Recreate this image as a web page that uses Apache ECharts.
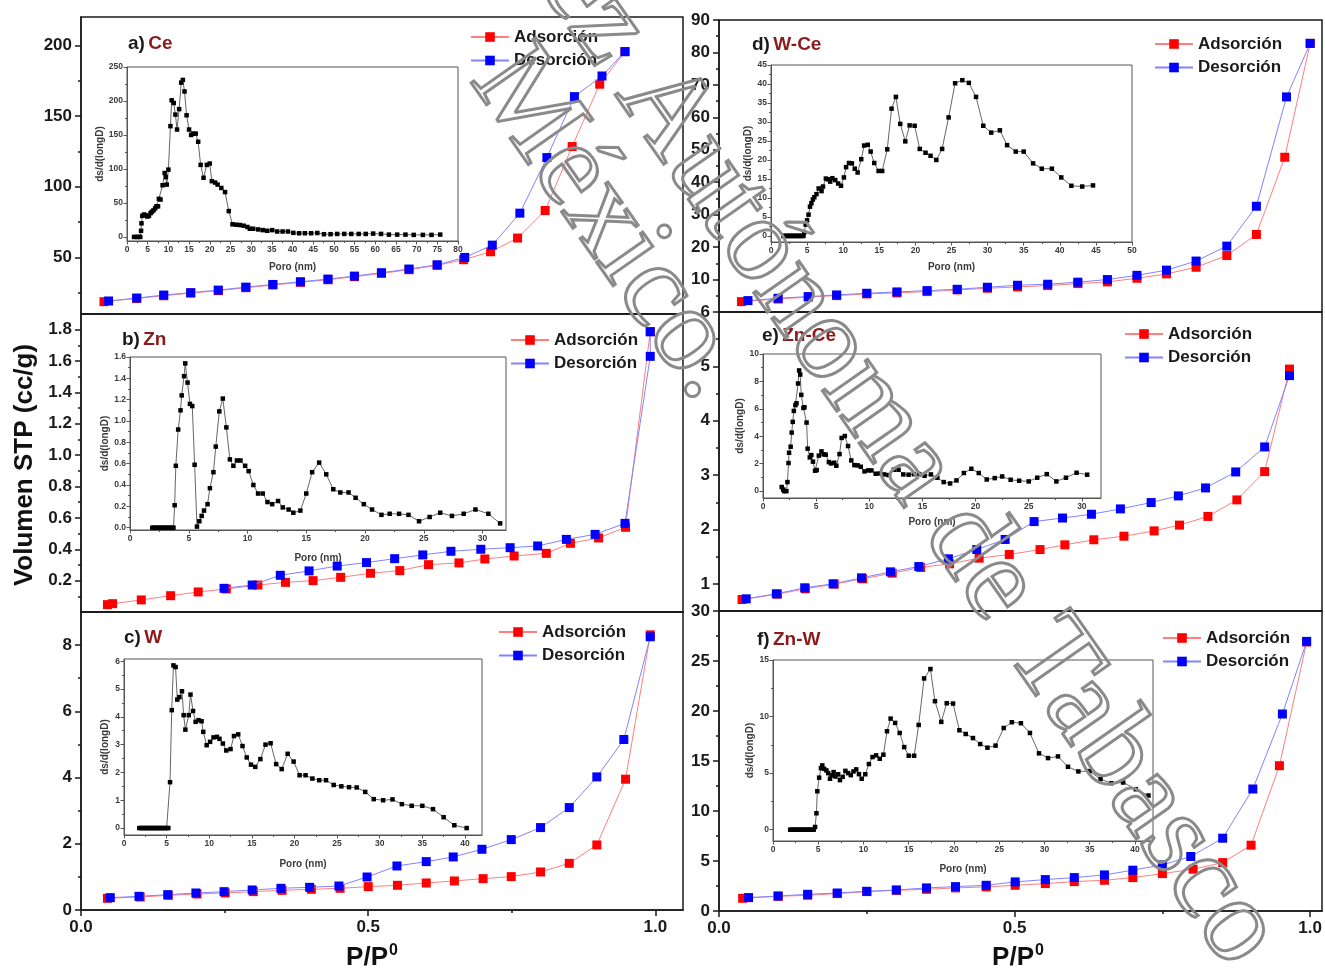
<!DOCTYPE html>
<html>
<head>
<meta charset="utf-8">
<script src="https://cdn.jsdelivr.net/npm/echarts@6/dist/echarts.min.js"></script>
<style>
  html, body { margin: 0; padding: 0; background: #ffffff; }
  #chart { width: 1325px; height: 971px; }
</style>
</head>
<body>
<div id="chart"></div>
<script>
// ---------- N2 isotherms: [P/P0, volume STP (cc/g)] ----------
const ceAdsorcion = [[0.040,18.7],[0.097,21.0],[0.144,22.9],[0.191,24.8],[0.239,26.5],[0.287,28.6],[0.334,30.5],[0.382,32.4],[0.430,34.2],[0.476,36.4],[0.523,38.7],[0.571,41.3],[0.620,44.4],[0.666,48.4],[0.713,54.0],[0.760,63.7],[0.808,83.2],[0.855,128.4],[0.903,172.5],[0.947,195.5]];
const ceDesorcion = [[0.048,19.2],[0.097,21.3],[0.144,23.4],[0.191,25.1],[0.239,26.9],[0.287,29.0],[0.334,30.9],[0.382,32.8],[0.430,34.7],[0.476,36.8],[0.523,39.2],[0.571,41.8],[0.620,44.8],[0.668,50.0],[0.716,58.7],[0.764,81.3],[0.811,120.6],[0.859,163.7],[0.907,178.3],[0.947,195.5]];

const znAdsorcion = [[0.046,0.047],[0.055,0.053],[0.105,0.077],[0.156,0.104],[0.204,0.128],[0.253,0.147],[0.308,0.172],[0.356,0.189],[0.404,0.200],[0.452,0.221],[0.504,0.247],[0.555,0.264],[0.605,0.302],[0.658,0.313],[0.703,0.338],[0.754,0.357],[0.810,0.374],[0.852,0.438],[0.901,0.472],[0.948,0.540],[0.991,1.787]];
const znDesorcion = [[0.249,0.151],[0.298,0.172],[0.347,0.234],[0.397,0.262],[0.446,0.293],[0.497,0.315],[0.546,0.340],[0.595,0.364],[0.644,0.387],[0.696,0.400],[0.747,0.410],[0.795,0.421],[0.845,0.463],[0.895,0.495],[0.947,0.565],[0.991,1.630],[0.991,1.787]];

const wAdsorcion = [[0.046,0.353],[0.103,0.393],[0.152,0.443],[0.202,0.484],[0.251,0.514],[0.300,0.554],[0.350,0.594],[0.401,0.625],[0.451,0.655],[0.500,0.705],[0.551,0.746],[0.601,0.816],[0.650,0.877],[0.700,0.947],[0.749,1.008],[0.800,1.149],[0.850,1.41],[0.898,1.965],[0.948,3.95],[0.991,8.31]];
const wDesorcion = [[0.051,0.373],[0.101,0.413],[0.151,0.463],[0.200,0.514],[0.249,0.554],[0.298,0.605],[0.348,0.655],[0.398,0.685],[0.449,0.725],[0.498,0.997],[0.550,1.33],[0.601,1.461],[0.648,1.602],[0.698,1.834],[0.749,2.126],[0.800,2.489],[0.850,3.093],[0.898,4.02],[0.945,5.149],[0.991,8.252]];

const wceAdsorcion = [[0.038,3.2],[0.100,4.0],[0.151,4.6],[0.199,5.05],[0.250,5.57],[0.301,5.88],[0.352,6.29],[0.403,6.8],[0.454,7.32],[0.505,7.73],[0.556,8.14],[0.607,8.76],[0.657,9.28],[0.707,10.4],[0.757,11.75],[0.807,13.8],[0.859,17.4],[0.909,23.9],[0.957,47.7],[1.0,82.8]];
const wceDesorcion = [[0.049,3.51],[0.100,4.23],[0.151,4.75],[0.199,5.26],[0.250,5.78],[0.301,6.19],[0.352,6.6],[0.403,7.0],[0.454,7.63],[0.505,8.25],[0.556,8.56],[0.607,9.2],[0.657,10.0],[0.707,11.3],[0.757,12.9],[0.807,15.7],[0.859,20.3],[0.909,32.6],[0.960,66.3],[1.0,82.8]];

const znceAdsorcion = [[0.039,0.712],[0.099,0.81],[0.146,0.908],[0.195,0.994],[0.243,1.092],[0.293,1.196],[0.341,1.30],[0.390,1.368],[0.440,1.472],[0.491,1.54],[0.543,1.63],[0.585,1.717],[0.634,1.81],[0.685,1.876],[0.736,1.974],[0.779,2.08],[0.827,2.24],[0.876,2.544],[0.923,3.064],[0.965,4.95]];
const znceDesorcion = [[0.046,0.724],[0.097,0.816],[0.145,0.927],[0.193,1.0],[0.241,1.11],[0.290,1.22],[0.338,1.318],[0.388,1.46],[0.436,1.63],[0.484,1.816],[0.533,2.145],[0.581,2.21],[0.630,2.28],[0.679,2.378],[0.731,2.495],[0.777,2.617],[0.823,2.764],[0.874,3.058],[0.923,3.518],[0.965,4.83]];

const znwAdsorcion = [[0.040,1.27],[0.100,1.47],[0.150,1.57],[0.200,1.74],[0.250,1.94],[0.300,2.07],[0.351,2.17],[0.400,2.31],[0.452,2.41],[0.501,2.57],[0.552,2.74],[0.601,2.94],[0.652,3.07],[0.700,3.34],[0.750,3.74],[0.802,4.18],[0.852,4.84],[0.900,6.58],[0.948,14.53],[0.994,26.9]];
const znwDesorcion = [[0.050,1.34],[0.100,1.5],[0.150,1.67],[0.200,1.8],[0.250,1.97],[0.300,2.1],[0.351,2.31],[0.400,2.44],[0.452,2.57],[0.501,2.91],[0.552,3.14],[0.601,3.34],[0.652,3.61],[0.700,4.08],[0.750,4.61],[0.798,5.45],[0.852,7.28],[0.903,12.2],[0.953,19.7],[0.994,26.96]];

// ---------- pore size distributions: [pore (nm), ds/d(logD)] ----------
const cePoro = [[1.7,0],[2.3,0],[2.7,0],[3.2,0],[3.4,9],[3.5,20],[3.7,31],[4.1,33],[4.5,32],[4.9,30],[5.3,31],[5.7,35],[6.0,37],[6.4,39],[6.8,42],[7.1,45],[7.5,45],[7.7,56],[8.1,55],[8.6,76],[9.1,94],[9.4,88],[9.6,77],[10.0,99],[10.5,163],[10.8,201],[11.3,197],[11.7,180],[12.1,158],[12.6,188],[13.1,227],[13.5,231],[13.9,214],[14.4,179],[15.0,158],[15.5,150],[16.0,152],[16.6,152],[17.2,140],[17.8,106],[18.5,87],[19.3,106],[20.0,108],[20.5,82],[21.3,80],[21.9,77],[22.8,72],[23.7,66],[24.6,38],[25.5,18.5],[26.4,18],[27.3,17.5],[28.2,16.5],[29.1,14.6],[29.7,12],[30.5,12],[31.7,11],[32.8,10],[33.9,9],[35.1,10],[36.3,8],[37.6,8],[38.9,8],[40.2,6],[41.6,5.4],[43.0,5.4],[44.5,5.4],[46.0,5.8],[47.6,4],[49.2,4],[50.8,4.4],[52.5,4.4],[54.2,4.4],[56.0,4.4],[57.7,4.4],[59.5,4.9],[61.4,4.4],[63.3,3.4],[65.3,3.4],[67.3,3.4],[69.3,3],[71.5,3],[73.6,3],[75.7,3.4]];
const znPoro = [[1.9,0],[2.1,0],[2.3,0],[2.5,0],[2.7,0],[2.9,0],[3.1,0],[3.3,0],[3.5,0],[3.7,0],[3.8,0.21],[3.9,0.58],[4.1,0.92],[4.3,1.10],[4.4,1.24],[4.6,1.42],[4.7,1.54],[4.9,1.36],[5.1,1.16],[5.3,1.14],[5.5,0.59],[5.7,0.01],[5.9,0.06],[6.1,0.11],[6.3,0.16],[6.6,0.22],[6.8,0.37],[7.1,0.52],[7.3,0.76],[7.6,1.09],[7.9,1.21],[8.2,0.94],[8.5,0.64],[8.8,0.58],[9.1,0.63],[9.4,0.63],[9.8,0.58],[10.1,0.53],[10.5,0.40],[10.9,0.32],[11.3,0.32],[11.7,0.24],[12.1,0.22],[12.6,0.25],[13.0,0.19],[13.5,0.17],[13.9,0.14],[14.5,0.16],[15.0,0.32],[15.5,0.52],[16.1,0.61],[16.7,0.50],[17.3,0.36],[17.9,0.33],[18.6,0.33],[19.2,0.28],[19.9,0.22],[20.6,0.17],[21.4,0.12],[22.1,0.13],[22.9,0.13],[23.7,0.12],[24.6,0.06],[25.5,0.10],[26.4,0.14],[27.4,0.11],[28.4,0.13],[29.4,0.17],[30.5,0.13],[31.5,0.04]];
const wPoro = [[1.8,0],[2.0,0],[2.2,0],[2.4,0],[2.6,0],[2.8,0],[3.0,0],[3.2,0],[3.4,0],[3.6,0],[3.8,0],[4.0,0],[4.2,0],[4.4,0],[4.6,0],[4.8,0],[5.0,0],[5.2,0],[5.4,1.65],[5.6,4.24],[5.8,5.85],[6.05,5.79],[6.25,4.62],[6.5,4.71],[6.8,4.92],[7.0,4.06],[7.2,3.54],[7.6,4.06],[7.8,4.80],[8.1,4.21],[8.4,3.82],[8.75,3.88],[9.1,3.84],[9.3,3.46],[9.7,2.98],[10.1,3.10],[10.5,3.26],[10.9,3.28],[11.2,3.21],[11.6,3.04],[12.0,2.79],[12.5,2.84],[12.9,3.31],[13.4,3.37],[13.9,2.95],[14.4,2.54],[14.9,2.28],[15.4,2.20],[16.0,2.48],[16.6,3.00],[17.2,3.05],[17.85,2.30],[18.5,2.12],[19.2,2.67],[19.9,2.39],[20.6,1.90],[21.3,1.90],[22.1,1.78],[22.9,1.72],[23.7,1.72],[24.6,1.55],[25.5,1.50],[26.4,1.47],[27.3,1.46],[28.3,1.30],[29.3,1.04],[30.4,1.00],[31.5,1.03],[32.6,0.86],[33.75,0.80],[35.0,0.80],[36.25,0.68],[37.5,0.39],[38.75,0.10],[40.2,0.0]];
const wcePoro = [[1.7,0],[1.9,0],[2.1,0],[2.3,0],[2.5,0],[2.7,0],[2.9,0],[3.1,0],[3.3,0],[3.5,0],[3.7,0],[3.9,0],[4.1,0],[4.3,0],[4.5,0],[4.6,0.9],[4.8,3.0],[5.0,4.1],[5.2,5.6],[5.4,7.7],[5.6,8.6],[5.8,9.6],[6.0,10.2],[6.3,11.0],[6.6,12.5],[7.0,11.8],[7.2,13.0],[7.6,15.1],[7.9,14.9],[8.2,14.3],[8.5,15.2],[8.9,14.7],[9.3,13.8],[9.7,13.2],[10.1,15.4],[10.4,18.1],[10.8,19.2],[11.2,19.1],[11.6,17.7],[12.0,16.7],[12.5,20.2],[12.9,23.8],[13.4,24.0],[13.8,22.2],[14.3,19.2],[14.9,17.1],[15.4,17.1],[16.1,22.8],[16.7,33.5],[17.3,36.6],[17.9,29.5],[18.6,24.9],[19.2,29.1],[19.9,29.0],[20.6,22.9],[21.4,21.9],[22.1,21.1],[22.9,20.0],[23.7,22.9],[24.6,31.2],[25.5,40.2],[26.5,41.0],[27.4,40.3],[28.4,36.6],[29.4,29.0],[30.5,27.2],[31.7,27.8],[32.7,23.9],[33.9,22.2],[35.0,22.2],[36.3,19.1],[37.5,17.7],[38.9,17.7],[40.2,15.4],[41.6,13.2],[43.1,13.0],[44.6,13.3]];
const zncePoro = [[1.76,0.3],[1.9,0.12],[2.0,0],[2.2,0],[2.3,0.66],[2.4,2.05],[2.45,2.8],[2.6,3.24],[2.7,4.27],[2.8,5.05],[2.9,5.85],[3.05,6.27],[3.15,6.41],[3.3,7.85],[3.4,8.8],[3.5,8.5],[3.6,7.02],[3.8,6.07],[3.9,6.12],[4.1,5.0],[4.2,3.1],[4.4,2.46],[4.55,2.63],[4.7,2.15],[4.9,1.49],[5.05,1.54],[5.25,2.59],[5.5,2.9],[5.7,2.68],[5.9,2.66],[6.2,2.12],[6.4,2.02],[6.7,2.07],[6.9,1.85],[7.2,2.7],[7.4,3.88],[7.7,4.02],[8.0,3.29],[8.3,2.24],[8.6,1.90],[8.9,1.88],[9.2,1.78],[9.55,1.44],[9.9,1.51],[10.2,1.51],[10.6,1.27],[11.0,1.29],[11.4,1.22],[11.8,1.17],[12.3,1.56],[12.75,1.56],[13.2,1.22],[13.7,1.2],[14.2,1.24],[14.7,1.24],[15.2,1.12],[15.8,1.22],[16.4,0.98],[17.0,0.66],[17.6,0.56],[18.2,0.78],[18.9,1.32],[19.6,1.63],[20.3,1.32],[21.05,0.85],[21.8,0.95],[22.5,1.07],[23.3,0.83],[24.1,0.76],[25.0,0.71],[25.8,0.98],[26.7,1.24],[27.6,0.71],[28.5,0.98],[29.5,1.34],[30.5,1.2]];
const znwPoro = [[1.9,0],[2.1,0],[2.3,0],[2.5,0],[2.7,0],[2.9,0],[3.1,0],[3.3,0],[3.5,0],[3.7,0],[3.9,0],[4.1,0],[4.3,0],[4.5,0],[4.65,0.24],[4.8,1.45],[4.9,3.4],[5.1,4.6],[5.3,5.44],[5.45,5.68],[5.65,5.38],[5.9,5.24],[6.1,5.0],[6.3,4.5],[6.5,4.8],[6.7,5.09],[6.9,4.7],[7.2,4.9],[7.4,4.38],[7.7,4.67],[8.0,5.2],[8.3,5.0],[8.6,4.82],[8.9,5.15],[9.2,5.33],[9.5,4.91],[9.8,4.5],[10.2,4.9],[10.6,5.8],[11.0,6.42],[11.4,6.57],[11.8,6.27],[12.2,6.63],[12.6,8.7],[13.0,9.82],[13.5,9.44],[14.0,8.55],[14.5,7.3],[15.0,6.54],[15.6,6.54],[16.1,9.26],[16.7,13.37],[17.4,14.2],[17.9,11.36],[18.6,9.53],[19.2,11.18],[19.9,11.15],[20.6,8.79],[21.3,8.46],[22.1,8.1],[22.9,7.57],[23.7,7.25],[24.6,7.43],[25.5,8.99],[26.4,9.5],[27.4,9.41],[28.4,8.55],[29.4,6.75],[30.4,6.33],[31.5,6.48],[32.6,5.56],[33.75,5.15],[35.0,5.18],[36.2,4.47],[37.4,4.11],[38.7,4.17],[40.1,3.58],[41.5,3.02]];

// ---------- tick labels ----------
const presionTicks = [0, 0.5, 1.0];
const ceVolTicks = [50, 100, 150, 200];
const znVolTicks = [0.2, 0.4, 0.6, 0.8, 1.0, 1.2, 1.4, 1.6, 1.8];
const wVolTicks = [0, 2, 4, 6, 8];
const wceVolTicks = [10, 20, 30, 40, 50, 60, 70, 80, 90];
const znceVolTicks = [1, 2, 3, 4, 5, 6];
const znwVolTicks = [0, 5, 10, 15, 20, 25, 30];

const cePoroXTicks = [0,5,10,15,20,25,30,35,40,45,50,55,60,65,70,75,80];
const cePoroYTicks = [0,50,100,150,200,250];
const znPoroXTicks = [0,5,10,15,20,25,30];
const znPoroYTicks = [0,0.2,0.4,0.6,0.8,1.0,1.2,1.4,1.6];
const wPoroXTicks = [0,5,10,15,20,25,30,35,40];
const wPoroYTicks = [0,1,2,3,4,5,6];
const wcePoroXTicks = [0,5,10,15,20,25,30,35,40,45,50];
const wcePoroYTicks = [0,5,10,15,20,25,30,35,40,45];
const zncePoroXTicks = [0,5,10,15,20,25,30];
const zncePoroYTicks = [0,2,4,6,8,10];
const znwPoroXTicks = [0,5,10,15,20,25,30,35,40];
const znwPoroYTicks = [0,5,10,15];

// ---------- panel layout ----------
const SANS = "'Liberation Sans', Arial, Helvetica, sans-serif";
const INK = '#1a1a1a';

const panels = [
  { tag: 'a)', mat: 'Ce',    ads: ceAdsorcion,   des: ceDesorcion,   poro: cePoro,
    box: { left: 81,  top: 17,  width: 602, height: 297 }, xMax: 1.048, yMin: 10,  yMax: 220, yTicks: ceVolTicks,  yMinor: [25,75,125,175], yFmt: v => String(v), xLabels: false,
    tagPos: [128, 44], legendPos: [470, 28],
    inset: { left: 127, top: 67, width: 331, height: 174 }, px: [0, 80], py: [-6, 250], pxT: cePoroXTicks, pyT: cePoroYTicks, pyFmt: v => String(v), nameGapX: 21, nameGapY: 22 },
  { tag: 'b)', mat: 'Zn',    ads: znAdsorcion,   des: znDesorcion,   poro: znPoro,
    box: { left: 81,  top: 314, width: 602, height: 298 }, xMax: 1.048, yMin: 0,   yMax: 1.9, yTicks: znVolTicks,  yMinor: [0.1,0.3,0.5,0.7,0.9,1.1,1.3,1.5,1.7], yFmt: v => v.toFixed(1), xLabels: false,
    tagPos: [122, 340], legendPos: [510, 331],
    inset: { left: 130, top: 357, width: 376, height: 173 }, px: [0, 32], py: [-0.022, 1.6], pxT: znPoroXTicks, pyT: znPoroYTicks, pyFmt: v => v.toFixed(1), nameGapX: 23, nameGapY: 19 },
  { tag: 'c)', mat: 'W',     ads: wAdsorcion,    des: wDesorcion,    poro: wPoro,
    box: { left: 81,  top: 612, width: 602, height: 298 }, xMax: 1.048, yMin: 0,   yMax: 9,   yTicks: wVolTicks,   yMinor: [1,3,5,7], yFmt: v => String(v), xLabels: true,
    tagPos: [124, 638], legendPos: [498, 623],
    inset: { left: 124, top: 659, width: 358, height: 176 }, px: [0, 42], py: [-0.25, 6.08], pxT: wPoroXTicks, pyT: wPoroYTicks, pyFmt: v => String(v), nameGapX: 24, nameGapY: 14 },
  { tag: 'd)', mat: 'W-Ce',  ads: wceAdsorcion,  des: wceDesorcion,  poro: wcePoro,
    box: { left: 719, top: 20,  width: 603, height: 292 }, xMax: 1.02,  yMin: 0,   yMax: 90,  yTicks: wceVolTicks, yMinor: [5,15,25,35,45,55,65,75,85], yFmt: v => String(v), xLabels: false,
    tagPos: [752, 45], legendPos: [1154, 35],
    inset: { left: 771, top: 65, width: 361, height: 177 }, px: [0, 50], py: [-1.6, 45], pxT: wcePoroXTicks, pyT: wcePoroYTicks, pyFmt: v => String(v), nameGapX: 20, nameGapY: 17 },
  { tag: 'e)', mat: 'Zn-Ce', ads: znceAdsorcion, des: znceDesorcion, poro: zncePoro,
    box: { left: 719, top: 312, width: 603, height: 299 }, xMax: 1.02,  yMin: 0.5, yMax: 6,   yTicks: znceVolTicks, yMinor: [1.5,2.5,3.5,4.5,5.5], yFmt: v => String(v), xLabels: false,
    tagPos: [762, 336], legendPos: [1124, 325],
    inset: { left: 763, top: 354, width: 338, height: 144 }, px: [0, 31.8], py: [-0.5, 10], pxT: zncePoroXTicks, pyT: zncePoroYTicks, pyFmt: v => String(v), nameGapX: 19, nameGapY: 15 },
  { tag: 'f)', mat: 'Zn-W',  ads: znwAdsorcion,  des: znwDesorcion,  poro: znwPoro,
    box: { left: 719, top: 611, width: 603, height: 300 }, xMax: 1.02,  yMin: 0,   yMax: 30,  yTicks: znwVolTicks, yMinor: [2.5,7.5,12.5,17.5,22.5,27.5], yFmt: v => String(v), xLabels: true,
    tagPos: [757, 640], legendPos: [1162, 629],
    inset: { left: 773, top: 660, width: 380, height: 181 }, px: [0, 42], py: [-1, 15], pxT: znwPoroXTicks, pyT: znwPoroYTicks, pyFmt: v => String(v), nameGapX: 23, nameGapY: 18 }
];

function midpoints(t) {
  const m = [];
  for (let i = 0; i < t.length - 1; i++) m.push(+((t[i] + t[i + 1]) / 2).toFixed(4));
  return m;
}

const grids = [], xAxes = [], yAxes = [], series = [], legends = [], graphics = [];

// one value axis plus an overlay axis carrying only the minor ticks
function addAxis(list, gridIndex, c) {
  const position = list === xAxes ? 'bottom' : 'left';
  const lineStyle = { color: c.color, width: c.width };
  const main = {
    type: 'value', gridIndex, position, min: c.min, max: c.max, scale: true,
    axisLine: { show: true, onZero: false, lineStyle },
    splitLine: { show: false },
    axisTick: { show: c.majorLen > 0, customValues: c.majors, length: c.majorLen, lineStyle },
    axisLabel: c.labels
      ? { show: true, customValues: c.labels, formatter: c.fmt, fontFamily: SANS, fontWeight: 'bold',
          fontSize: c.fontSize, color: c.labelColor, margin: c.margin, hideOverlap: false }
      : { show: false }
  };
  if (c.name) {
    main.name = c.name;
    main.nameLocation = 'middle';
    main.nameGap = c.nameGap;
    main.nameTextStyle = { fontFamily: SANS, fontWeight: 'bold', fontSize: c.nameSize, color: c.labelColor };
  }
  const idx = list.length;
  list.push(main);
  if (c.minors && c.minors.length && c.minorLen > 0) {
    list.push({
      type: 'value', gridIndex, position, min: c.min, max: c.max, scale: true,
      axisLine: { show: false, onZero: false }, splitLine: { show: false }, axisLabel: { show: false },
      axisTick: { show: true, customValues: c.minors, length: c.minorLen, lineStyle }
    });
  }
  return idx;
}

panels.forEach(p => {
  // ---- main isotherm panel ----
  const g = grids.length;
  grids.push(Object.assign({ show: true, borderColor: INK, borderWidth: 1.5, backgroundColor: 'transparent', containLabel: false }, p.box));
  const xi = addAxis(xAxes, g, {
    min: 0, max: p.xMax, color: INK, width: 1.5,
    majors: p.xLabels ? presionTicks : [], minors: p.xLabels ? [0.25, 0.75] : [],
    majorLen: p.xLabels ? 6 : 0, minorLen: p.xLabels ? 3 : 0,
    labels: p.xLabels ? presionTicks : null, fmt: v => v.toFixed(1),
    fontSize: 17, labelColor: INK, margin: 9
  });
  const yi = addAxis(yAxes, g, {
    min: p.yMin, max: p.yMax, color: INK, width: 1.5,
    majors: p.yTicks, minors: p.yMinor, majorLen: 6, minorLen: 3,
    labels: p.yTicks, fmt: p.yFmt, fontSize: 17, labelColor: INK, margin: 9
  });
  series.push({
    type: 'line', name: 'Adsorción', xAxisIndex: xi, yAxisIndex: yi, data: p.ads,
    symbol: 'rect', symbolSize: 9, showAllSymbol: true,
    lineStyle: { color: '#ff7f7f', width: 1 }, itemStyle: { color: '#ff0000' }, z: 3
  });
  series.push({
    type: 'line', name: 'Desorción', xAxisIndex: xi, yAxisIndex: yi, data: p.des,
    symbol: 'rect', symbolSize: 9, showAllSymbol: true,
    lineStyle: { color: '#8383ff', width: 1 }, itemStyle: { color: '#0000ff' }, z: 4
  });
  legends.push({
    data: ['Adsorción', 'Desorción'], orient: 'vertical',
    left: p.legendPos[0], top: p.legendPos[1], padding: 0,
    itemWidth: 38, itemHeight: 12, itemGap: 5.5, selectedMode: false,
    textStyle: { fontFamily: SANS, fontWeight: 'bold', fontSize: 17, color: INK, lineHeight: 18 }
  });
  graphics.push({
    type: 'text', x: p.tagPos[0], y: p.tagPos[1], z: 10,
    style: {
      text: '{k|' + p.tag + '} {n|' + p.mat + '}',
      verticalAlign: 'middle', align: 'left',
      rich: {
        k: { fontFamily: SANS, fontWeight: 'bold', fontSize: 19, fill: INK },
        n: { fontFamily: SANS, fontWeight: 'bold', fontSize: 19, fill: '#8b1a1a' }
      }
    }
  });

  // ---- pore size inset ----
  const gi = grids.length;
  grids.push(Object.assign({ show: true, borderColor: '#555', borderWidth: 1, backgroundColor: 'transparent', containLabel: false }, p.inset));
  const ixi = addAxis(xAxes, gi, {
    min: p.px[0], max: p.px[1], color: '#555', width: 1,
    majors: p.pxT, minors: midpoints(p.pxT), majorLen: 3.5, minorLen: 2,
    labels: p.pxT, fmt: v => String(v), fontSize: 8.5, labelColor: '#3a3a3a', margin: 4,
    name: 'Poro (nm)', nameGap: p.nameGapX, nameSize: 10
  });
  const iyi = addAxis(yAxes, gi, {
    min: p.py[0], max: p.py[1], color: '#555', width: 1,
    majors: p.pyT, minors: midpoints(p.pyT), majorLen: 3.5, minorLen: 2,
    labels: p.pyT, fmt: p.pyFmt, fontSize: 8.5, labelColor: '#3a3a3a', margin: 4,
    name: 'ds/d(longD)', nameGap: p.nameGapY, nameSize: 10
  });
  series.push({
    type: 'line', name: 'poro-' + p.mat, xAxisIndex: ixi, yAxisIndex: iyi, data: p.poro,
    symbol: 'rect', symbolSize: 4.5, showAllSymbol: true,
    lineStyle: { color: '#555', width: 0.9 }, itemStyle: { color: '#000' }, z: 5
  });
});

// shared axis titles
graphics.push({
  type: 'text', x: 25, y: 465, rotation: Math.PI / 2, z: 10,
  style: { text: 'Volumen STP (cc/g)', fontFamily: SANS, fontWeight: 'bold', fontSize: 26, fill: '#111', align: 'center', verticalAlign: 'middle' }
});
[372, 1018].forEach(cx => {
  graphics.push({
    type: 'text', x: cx, y: 958, z: 10,
    style: {
      text: '{p|P/P}{s|0}', align: 'center', verticalAlign: 'middle',
      rich: {
        p: { fontFamily: SANS, fontWeight: 'bold', fontSize: 26, fill: '#111' },
        s: { fontFamily: SANS, fontWeight: 'bold', fontSize: 16, fill: '#111', padding: [0, 0, 14, 1] }
      }
    }
  });
});

// outlined diagonal watermark lettering
const markAngle = -55 * Math.PI / 180;
const markFont = "'Liberation Serif', 'DejaVu Serif', serif";
graphics.push({
  type: 'text', x: 562, y: -36, rotation: markAngle, z: 50, silent: true,
  style: { text: 'ez Autónoma de Tabasco', fontFamily: markFont, fontSize: 120,
           fill: 'rgba(255,255,255,0)', stroke: '#8a8a8a', lineWidth: 3, align: 'left', verticalAlign: 'middle' }
});
graphics.push({
  type: 'text', x: 495, y: 62, rotation: markAngle, z: 50, silent: true,
  style: { text: 'México.', fontFamily: markFont, fontSize: 120,
           fill: 'rgba(255,255,255,0)', stroke: '#8a8a8a', lineWidth: 3, align: 'left', verticalAlign: 'middle' }
});

const chart = echarts.init(document.getElementById('chart'), null, { renderer: 'canvas' });
chart.setOption({
  animation: false,
  backgroundColor: '#ffffff',
  grid: grids,
  xAxis: xAxes,
  yAxis: yAxes,
  legend: legends,
  series: series,
  graphic: { elements: graphics }
});
</script>
</body>
</html>
